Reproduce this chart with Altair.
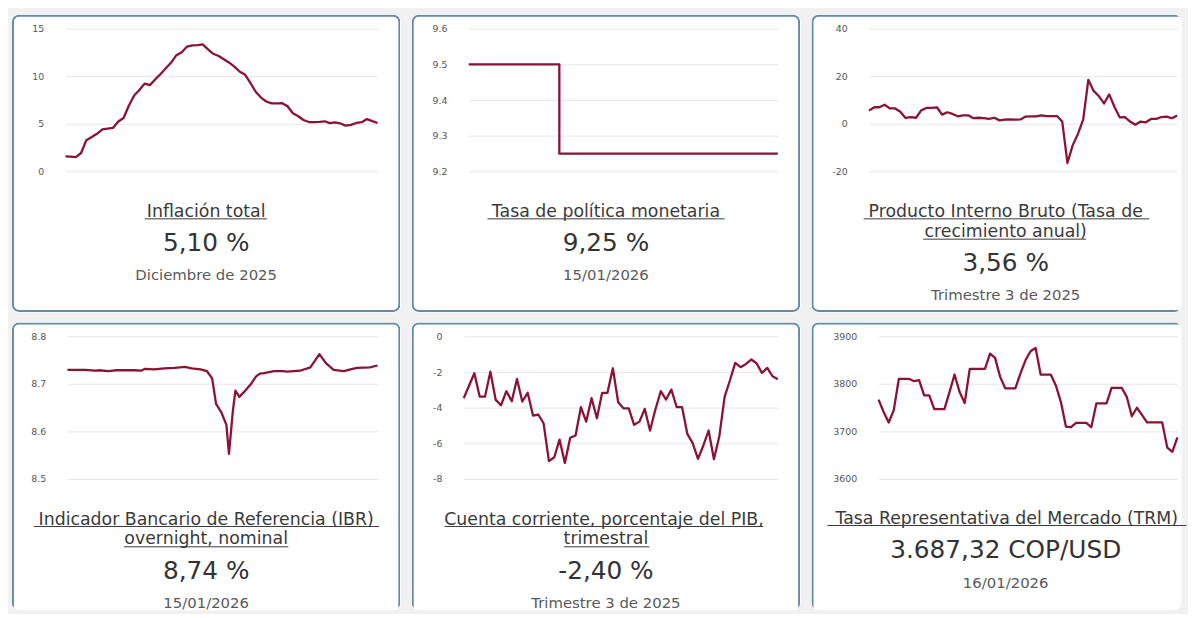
import altair as alt
import pandas as pd

# ---------------- data ----------------
infl_months = [f"{y}-{m:02d}-01" for y in range(2021, 2026) for m in range(1, 13)]
infl_values = [1.60, 1.56, 1.51, 1.95, 3.30, 3.63, 3.97, 4.44, 4.51, 4.58, 5.26, 5.62,
               6.94, 8.01, 8.53, 9.23, 9.07, 9.67, 10.21, 10.84, 11.44, 12.22, 12.53, 13.12,
               13.25, 13.28, 13.34, 12.82, 12.36, 12.13, 11.78, 11.43, 10.99, 10.48, 10.15, 9.28,
               8.35, 7.74, 7.36, 7.16, 7.16, 7.18, 6.86, 6.12, 5.81, 5.41, 5.20, 5.20,
               5.22, 5.28, 5.09, 5.16, 5.05, 4.82, 4.90, 5.10, 5.18, 5.51, 5.30, 5.10]

tpm_dates = ["2025-01-15", "2025-05-02", "2026-01-15"]
tpm_values = [9.50, 9.25, 9.25]

quarters = [f"{y}-{m:02d}-01" for y in range(2010, 2026) for m in (1, 4, 7, 10)][3:63]
pib_values = [5.6, 7.0, 7.0, 8.1, 6.5, 6.5, 5.1, 2.5, 2.9, 2.6,
              5.7, 6.7, 6.7, 7.0, 3.9, 4.9, 4.2, 3.2, 3.6, 3.6,
              2.4, 2.6, 2.4, 2.1, 2.6, 1.5, 1.8, 1.9, 1.8, 1.9,
              3.1, 3.2, 3.2, 3.6, 3.3, 3.3, 3.3, 1.0, -16.4, -9.0,
              -4.2, 1.8, 18.5, 13.9, 11.7, 8.6, 12.4, 7.2, 2.8, 2.9,
              1.0, -0.3, 1.0, 0.7, 2.1, 2.1, 2.9, 3.1, 2.4, 3.56]

ibr_obs = [0, 6, 14, 21, 24, 32, 37, 44, 52, 57, 60, 67, 75, 83, 91, 96, 103, 108,
           112, 115, 119, 123, 125, 128, 130, 133, 137, 142, 146, 149, 152, 160, 167,
           170, 180, 188, 195, 200, 206, 214, 219, 224, 234, 240]
ibr_values = [8.730, 8.730, 8.730, 8.728, 8.729, 8.727, 8.729, 8.729, 8.729, 8.728,
              8.732, 8.731, 8.733, 8.734, 8.736, 8.733, 8.731, 8.727,
              8.712, 8.658, 8.641, 8.614, 8.553, 8.643, 8.686, 8.673, 8.684, 8.700,
              8.716, 8.722, 8.723, 8.727, 8.727, 8.726, 8.728, 8.735, 8.763, 8.744,
              8.730, 8.727, 8.731, 8.734, 8.735, 8.739]

cc_values = [-3.46, -2.75, -2.06, -3.37, -3.37, -1.97, -3.56, -3.86, -3.07, -3.63,
             -2.38, -3.65, -3.16, -4.44, -4.38, -4.87, -7.00, -6.78, -5.79, -7.10,
             -5.69, -5.56, -3.97, -4.78, -3.46, -4.59, -3.16, -3.16, -1.78, -3.69,
             -4.03, -4.03, -4.96, -4.78, -4.06, -5.28, -4.10, -3.07, -3.54, -2.98,
             -3.97, -3.97, -5.47, -5.99, -6.87, -6.12, -5.28, -6.89, -5.62, -3.37,
             -2.47, -1.48, -1.72, -1.54, -1.29, -1.50, -2.04, -1.76, -2.23, -2.40]

trm_dates = [d.strftime("%Y-%m-%d") for d in pd.date_range("2025-11-18", "2026-01-16")]
trm_values = [3767, 3741, 3719, 3745, 3811, 3811, 3811, 3806, 3808, 3776,
              3776, 3747, 3747, 3747, 3783, 3820, 3783, 3760, 3832, 3832,
              3832, 3832, 3864, 3855, 3815, 3791, 3791, 3791, 3822, 3850,
              3869, 3876, 3820, 3820, 3820, 3797, 3762, 3710, 3709, 3718,
              3718, 3718, 3709, 3759, 3759, 3759, 3792, 3792, 3792, 3773,
              3732, 3750, 3735, 3719, 3719, 3719, 3719, 3666, 3657, 3687.32]

# ---------------- styling ----------------
FONT = "DejaVu Sans"
LINE = "#8b1235"
BORDER = "#6389ad"
TITLE_C = "#3a3a3a"
VALUE_C = "#333333"
DATE_C = "#595959"
CARD_W, CARD_H = 392, 300          # full size of a card
ROW1_Y = [158.3, 14]
ROW2_Y = [158, 14.3]


def card(df, xfield, xtype, xrange, ydomain, yrange, yticks, interp, texts, rules,
         view_w=CARD_W, view_h=CARD_H):
    frame = alt.Chart(pd.DataFrame({"u": [0]})).mark_rect(
        fill="transparent", stroke=BORDER, strokeWidth=2, cornerRadius=6, clip=True
    ).encode(x=alt.value(1), x2=alt.value(CARD_W - 1),
             y=alt.value(1), y2=alt.value(CARD_H - 1))
    line = alt.Chart(df).mark_line(
        color=LINE, strokeWidth=2.3, interpolate=interp, strokeJoin="round"
    ).encode(
        x=alt.X(f"{xfield}:{xtype}",
                scale=alt.Scale(range=xrange, nice=False, zero=False), axis=None),
        y=alt.Y("v:Q",
                scale=alt.Scale(domain=ydomain, range=yrange, nice=False, zero=False),
                axis=alt.Axis(values=yticks, offset=-(xrange[0] - 22), domain=False,
                              ticks=False, tickSize=0, labelPadding=0, grid=True,
                              gridColor="#e7e7e7", gridWidth=1, labelFont=FONT,
                              labelFontSize=9.5, labelColor="#555555", title=None,
                              labelExpr="'' + datum.value")),
    )
    layers = [frame, line]
    for txt, x, y, size, color in texts:
        layers.append(
            alt.Chart(pd.DataFrame({"t": [txt]})).mark_text(
                font=FONT, fontSize=size, color=color, align="center",
                baseline="alphabetic"
            ).encode(text="t:N", x=alt.value(x), y=alt.value(y))
        )
    for x1, x2, y in rules:
        layers.append(
            alt.Chart(pd.DataFrame({"u": [0]})).mark_rule(
                color=TITLE_C, strokeWidth=1
            ).encode(x=alt.value(x1), x2=alt.value(x2), y=alt.value(y))
        )
    return alt.layer(*layers).properties(width=view_w, height=view_h)


W3 = 373   # last column is cut by the window edge
H2 = 290   # bottom row is cut by the window edge

c1 = card(pd.DataFrame({"d": infl_months, "v": infl_values}), "d", "T", [54, 369],
          [0, 15], ROW1_Y, [0, 5, 10, 15], "linear",
          [("Inflación total", 196, 204, 17.5, TITLE_C),
           ("5,10 %", 196, 238, 25, VALUE_C),
           ("Diciembre de 2025", 196, 268, 15, DATE_C)],
          [(134, 257.3, 206)])

c2 = card(pd.DataFrame({"d": tpm_dates, "v": tpm_values}), "d", "T", [57.5, 369.5],
          [9.2, 9.6], ROW1_Y, [9.2, 9.3, 9.4, 9.5, 9.6], "step-after",
          [("Tasa de política monetaria", 196, 204, 17.5, TITLE_C),
           ("9,25 %", 196, 238, 25, VALUE_C),
           ("15/01/2026", 196, 268, 15, DATE_C)],
          [(76.5, 315.8, 206)])

c3 = card(pd.DataFrame({"d": quarters, "v": pib_values}), "d", "T", [58, 369],
          [-20, 40], ROW1_Y, [-20, 0, 20, 40], "linear",
          [("Producto Interno Bruto (Tasa de", 196, 204, 17.5, TITLE_C),
           ("crecimiento anual)", 196, 224, 17.5, TITLE_C),
           ("3,56 %", 196, 258.3, 25, VALUE_C),
           ("Trimestre 3 de 2025", 196, 288.3, 15, DATE_C)],
          [(52.7, 341, 206), (112.7, 277, 226.5)],
          view_w=W3)

c4 = card(pd.DataFrame({"d": ibr_obs, "v": ibr_values}), "d", "Q", [56, 369],
          [8.5, 8.8], ROW2_Y, [8.5, 8.6, 8.7, 8.8], "linear",
          [("Indicador Bancario de Referencia (IBR)", 196, 204.5, 17.5, TITLE_C),
           ("overnight, nominal", 196, 224, 17.5, TITLE_C),
           ("8,74 %", 196, 258.5, 25, VALUE_C),
           ("15/01/2026", 196, 288, 15, DATE_C)],
          [(22, 370.7, 206), (113, 279, 226.5)],
          view_h=H2)

c5 = card(pd.DataFrame({"d": quarters, "v": cc_values}), "d", "T", [52.5, 369.5],
          [-8, 0], ROW2_Y, [-8, -6, -4, -2, 0], "linear",
          [("Cuenta corriente, porcentaje del PIB,", 194, 204.5, 17.5, TITLE_C),
           ("trimestral", 196, 224, 17.5, TITLE_C),
           ("-2,40 %", 196, 258.5, 25, VALUE_C),
           ("Trimestre 3 de 2025", 196, 288, 15, DATE_C)],
          [(33.2, 354.8, 206), (153.8, 239.8, 226.5)],
          view_h=H2)

c6 = card(pd.DataFrame({"d": trm_dates, "v": trm_values}), "d", "T", [67.7, 369.3],
          [3600, 3900], ROW2_Y, [3600, 3700, 3800, 3900], "linear",
          [("Tasa Representativa del Mercado (TRM)", 197, 203.5, 17.5, TITLE_C),
           ("3.687,32 COP/USD", 196, 238, 25, VALUE_C),
           ("16/01/2026", 196, 268, 15, DATE_C)],
          [(16, 378.3, 205)],
          view_w=W3, view_h=H2)

row1 = alt.hconcat(c1, c2, c3, spacing=9.5)
row2 = alt.hconcat(c4, c5, c6, spacing=9.5)

chart = alt.vconcat(row1, row2, spacing=8.5).properties(
    padding={"left": 3, "top": 3, "right": 0, "bottom": 0},
    background="#f1f1f1",
).configure_view(
    stroke="transparent", fill="white", cornerRadius=7
)

chart.save("out.html", embed_options={"renderer": "svg", "actions": False})
